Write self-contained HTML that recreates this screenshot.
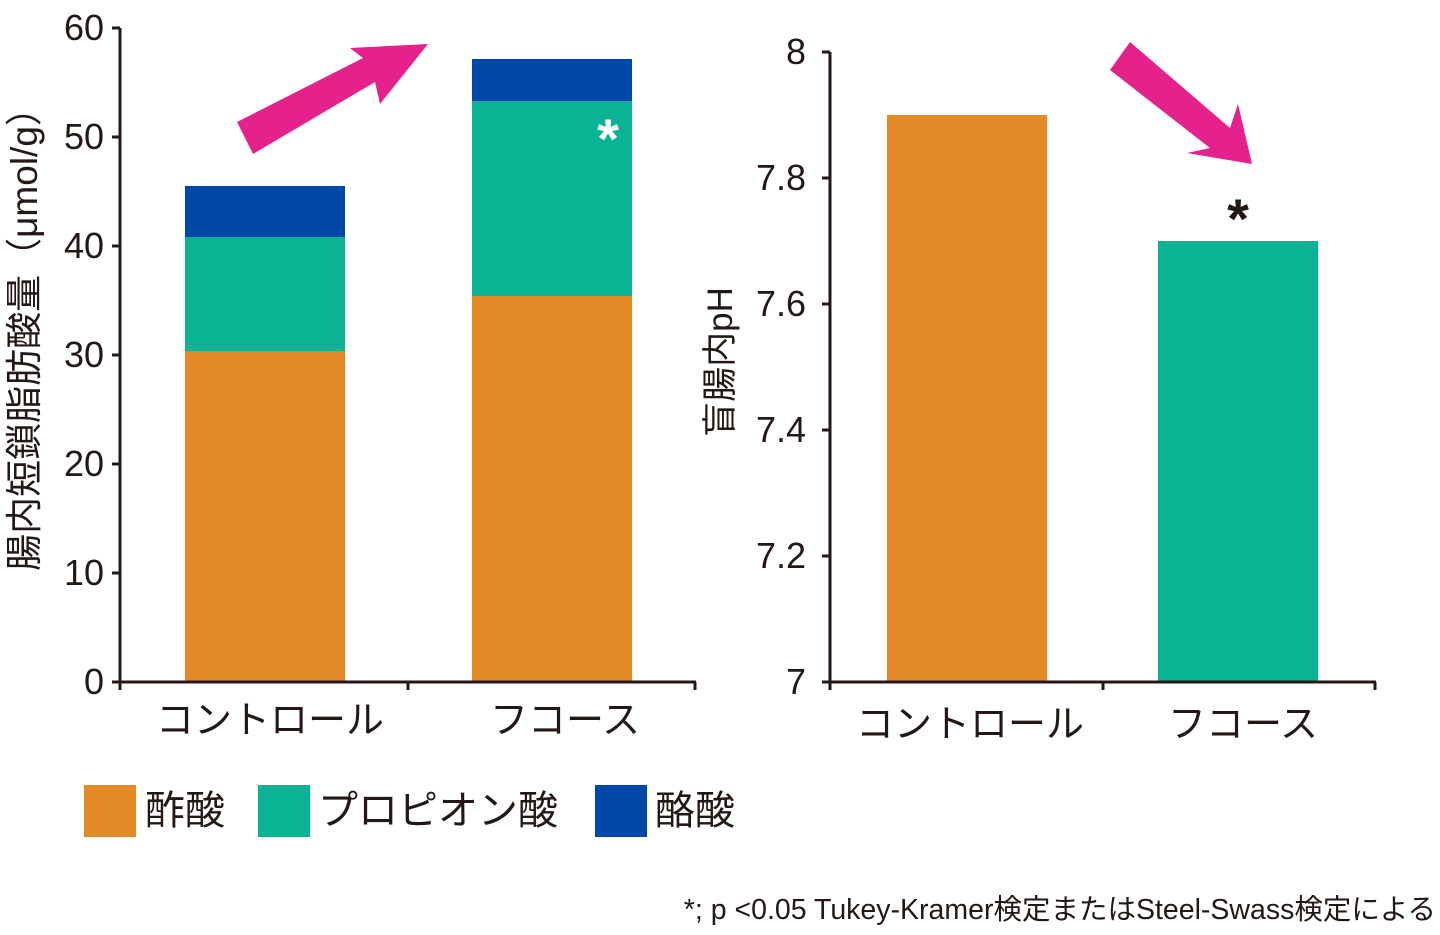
<!DOCTYPE html>
<html><head><meta charset="utf-8"><style>
body{margin:0;background:#fff;}
svg text{font-family:"Liberation Sans","Noto Sans CJK JP",sans-serif;fill:#231815;}
</style></head><body>
<svg width="1440" height="930" xmlns="http://www.w3.org/2000/svg">
<rect x="185" y="351" width="160" height="331" fill="#E38A26"/>
<rect x="185" y="237" width="160" height="114" fill="#0BB395"/>
<rect x="185" y="186" width="160" height="51" fill="#0047A8"/>
<rect x="472" y="296" width="160" height="386" fill="#E38A26"/>
<rect x="472" y="101" width="160" height="195" fill="#0BB395"/>
<rect x="472" y="59" width="160" height="42" fill="#0047A8"/>
<text x="608" y="158" font-size="56" style="fill:#fff" text-anchor="middle" font-weight="bold">*</text>
<g stroke="#231815" stroke-width="3" fill="none">
<line x1="120" y1="28" x2="120" y2="684"/>
<line x1="118" y1="682" x2="696" y2="682"/>
<line x1="112" y1="28" x2="120" y2="28"/><line x1="112" y1="137" x2="120" y2="137"/>
<line x1="112" y1="246" x2="120" y2="246"/><line x1="112" y1="355" x2="120" y2="355"/>
<line x1="112" y1="464" x2="120" y2="464"/><line x1="112" y1="573" x2="120" y2="573"/>
<line x1="112" y1="682" x2="120" y2="682"/>
<line x1="120" y1="682" x2="120" y2="690"/><line x1="408" y1="682" x2="408" y2="690"/><line x1="695" y1="682" x2="695" y2="690"/>
</g>
<g font-size="36" text-anchor="end">
<text x="104" y="40">60</text><text x="104" y="149">50</text><text x="104" y="258">40</text>
<text x="104" y="367">30</text><text x="104" y="476">20</text><text x="104" y="585">10</text><text x="104" y="694">0</text>
</g>
<text x="270" y="733" font-size="38" text-anchor="middle">コントロール</text>
<text x="565" y="733" font-size="38" text-anchor="middle">フコース</text>
<text transform="translate(37,330) rotate(-90)" font-size="37" text-anchor="middle">腸内短鎖脂肪酸量（μmol/g）</text>
<polygon points="237,122 363,58 350,48 428,44 380,104 375,82 253,154" fill="#E5218C"/>
<polygon points="1110,70 1130,42 1230,128 1238,104 1252,164 1187,153 1210,148" fill="#E5218C"/>
<rect x="887" y="115" width="160" height="567" fill="#E38A26"/>
<rect x="1158" y="241" width="160" height="441" fill="#0BB395"/>
<text x="1238" y="238" font-size="56" text-anchor="middle" font-weight="bold">*</text>
<g stroke="#231815" stroke-width="3" fill="none">
<line x1="830" y1="52" x2="830" y2="684"/>
<line x1="828" y1="682" x2="1376" y2="682"/>
<line x1="822" y1="52" x2="830" y2="52"/><line x1="822" y1="178" x2="830" y2="178"/>
<line x1="822" y1="304" x2="830" y2="304"/><line x1="822" y1="430" x2="830" y2="430"/>
<line x1="822" y1="556" x2="830" y2="556"/><line x1="822" y1="682" x2="830" y2="682"/>
<line x1="830" y1="682" x2="830" y2="690"/><line x1="1103" y1="682" x2="1103" y2="690"/><line x1="1375" y1="682" x2="1375" y2="690"/>
</g>
<g font-size="36" text-anchor="end">
<text x="806" y="64">8</text><text x="806" y="190">7.8</text><text x="806" y="316">7.6</text>
<text x="806" y="442">7.4</text><text x="806" y="568">7.2</text><text x="806" y="694">7</text>
</g>
<text x="970" y="737" font-size="38" text-anchor="middle">コントロール</text>
<text x="1243" y="737" font-size="38" text-anchor="middle">フコース</text>
<text transform="translate(732,362) rotate(-90)" font-size="35" text-anchor="middle">盲腸内pH</text>
<rect x="84" y="785" width="52" height="52" fill="#E38A26"/>
<text x="145" y="824" font-size="40">酢酸</text>
<rect x="258" y="785" width="52" height="52" fill="#0BB395"/>
<text x="318" y="824" font-size="40">プロピオン酸</text>
<rect x="595" y="785" width="52" height="52" fill="#0047A8"/>
<text x="655" y="824" font-size="40">酪酸</text>
<text x="1436" y="919" font-size="28.5" text-anchor="end">*; p &lt;0.05  Tukey-Kramer検定またはSteel-Swass検定による</text>
</svg>
</body></html>
